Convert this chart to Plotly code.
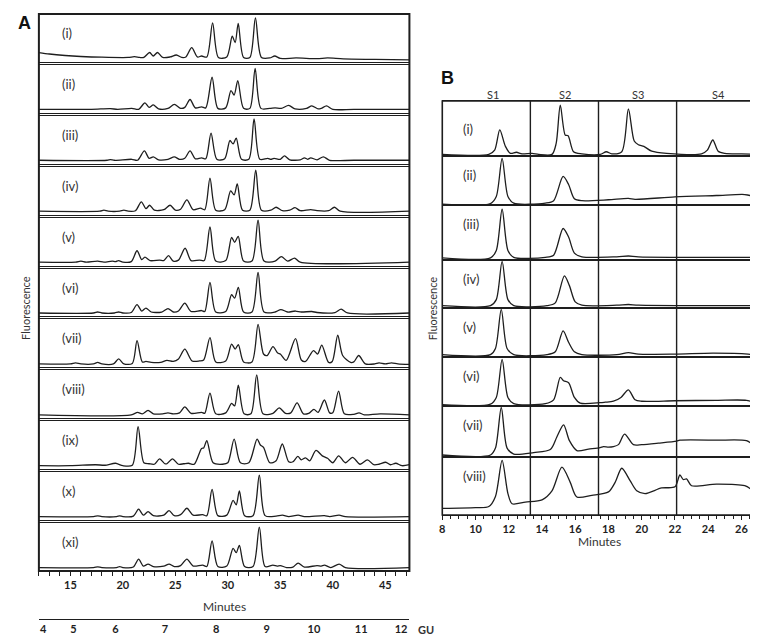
import plotly.graph_objects as go

W, H = 758, 637

# ---------------- data ----------------
A_labels = ["(i)", "(ii)", "(iii)", "(iv)", "(v)", "(vi)", "(vii)", "(viii)", "(ix)", "(x)", "(xi)"]
B_labels = ["(i)", "(ii)", "(iii)", "(iv)", "(v)", "(vi)", "(vii)", "(viii)"]

# Panel A chromatograms: (minutes, relative fluorescence)
A_i = [(12, 0.12), (13, 0.09), (14.5, 0.06), (16, 0.04), (18, 0.025), (20.5, 0.02), (21.1, 0.035), (21.6, 0.02),
       (22.0, 0.02), (22.55, 0.12), (22.9, 0.05), (23.3, 0.12), (23.8, 0.02), (24.5, 0.03), (25.1, 0.07), (25.6, 0.02),
       (26.0, 0.03), (26.56, 0.22), (27.1, 0.03), (27.5, 0.05), (28.0, 0.03), (28.55, 0.72), (29.1, 0.02), (29.9, 0.03),
       (30.42, 0.45), (30.7, 0.32), (30.99, 0.71), (31.5, 0.02), (32.1, 0.02), (32.63, 0.82), (33.2, 0.02), (34.0, 0.01),
       (34.47, 0.05), (35.0, 0.0), (36.5, 0.01), (38.5, -0.005), (39.5, 0.01), (41, -0.01), (44, -0.02), (47.3, -0.03)]
A_ii = [(12, 0.0), (17, 0.0), (18.8, 0.015), (19.5, 0.0), (20.85, 0.02), (21.5, 0.0), (22.1, 0.13), (22.5, 0.04),
        (22.9, 0.09), (23.4, 0.01), (24.3, 0.02), (24.9, 0.10), (25.5, 0.02), (25.9, 0.04), (26.4, 0.2), (26.9, 0.03),
        (27.5, 0.05), (27.9, 0.03), (28.5, 0.65), (29.05, 0.02), (29.8, 0.03), (30.3, 0.38), (30.6, 0.29), (30.95, 0.58),
        (31.5, 0.02), (32.1, 0.02), (32.6, 0.83), (33.15, 0.02), (34.0, 0.02), (34.5, 0.03), (35.1, 0.02), (35.8, 0.08),
        (36.4, 0.01), (37.5, 0.02), (38.0, 0.07), (38.6, 0.01), (38.9, 0.02), (39.4, 0.07), (40.0, 0.0), (42, 0.0), (47.3, 0.0)]
A_iii = [(12, 0.0), (18.5, 0.0), (18.8, 0.015), (19.2, 0.0), (20.85, 0.02), (21.4, 0.0), (22.05, 0.19), (22.5, 0.04),
         (22.9, 0.07), (23.4, 0.01), (24.3, 0.02), (24.9, 0.07), (25.4, 0.02), (25.9, 0.04), (26.4, 0.19), (26.9, 0.03),
         (27.5, 0.05), (27.9, 0.03), (28.4, 0.55), (28.95, 0.02), (29.7, 0.03), (30.2, 0.40), (30.5, 0.33), (30.8, 0.45),
         (31.3, 0.02), (32.0, 0.02), (32.5, 0.84), (33.05, 0.02), (33.8, 0.04), (34.1, 0.02), (34.4, 0.04), (35.0, 0.02),
         (35.4, 0.09), (35.9, 0.01), (36.9, 0.01), (37.3, 0.05), (37.6, 0.02), (37.9, 0.05), (38.5, 0.01), (39.1, 0.07),
         (39.7, 0.0), (42, 0.0), (47.3, 0.0)]
A_iv = [(12, 0.0), (17.8, 0.0), (18.2, 0.02), (18.6, 0.0), (19.7, 0.0), (20.1, 0.02), (20.5, 0.0), (21.2, 0.01),
        (21.76, 0.19), (22.2, 0.05), (22.55, 0.12), (23.0, 0.02), (23.9, 0.03), (24.5, 0.12), (25.0, 0.02), (25.5, 0.04),
        (26.1, 0.23), (26.7, 0.03), (27.4, 0.06), (27.8, 0.03), (28.3, 0.67), (28.85, 0.02), (29.7, 0.03), (30.27, 0.41),
        (30.6, 0.33), (30.9, 0.55), (31.4, 0.02), (32.1, 0.02), (32.66, 0.83), (33.2, 0.02), (34.1, 0.02), (34.6, 0.08),
        (35.2, 0.01), (35.9, 0.02), (36.4, 0.07), (36.9, 0.01), (37.9, 0.03), (38.5, 0.01), (39.6, 0.01), (40.15, 0.08),
        (40.7, 0.0), (47.3, 0.0)]
A_v = [(12, 0.0), (15.5, 0.0), (16.0, 0.02), (16.5, 0.0), (17.6, 0.02), (18.2, 0.0), (19.0, 0.02), (19.3, 0.01),
       (19.6, 0.03), (20.0, 0.0), (20.8, 0.01), (21.35, 0.23), (21.8, 0.05), (22.1, 0.1), (22.6, 0.03), (23.5, 0.04),
       (23.9, 0.03), (24.35, 0.13), (24.8, 0.02), (25.3, 0.04), (25.93, 0.28), (26.5, 0.03), (27.3, 0.04), (27.75, 0.03),
       (28.3, 0.71), (28.85, 0.02), (29.8, 0.03), (30.36, 0.5), (30.65, 0.4), (30.99, 0.52), (31.5, 0.02), (32.3, 0.02),
       (32.88, 0.85), (33.45, 0.02), (34.5, 0.02), (35.1, 0.11), (35.7, 0.02), (36.36, 0.08), (36.9, 0.0), (47.3, 0.0)]
A_vi = [(12, 0.0), (17.2, 0.0), (17.6, 0.02), (18.0, 0.0), (19.2, 0.0), (19.6, 0.02), (20.0, 0.0), (20.8, 0.01),
        (21.35, 0.17), (21.8, 0.04), (22.2, 0.1), (22.7, 0.02), (23.7, 0.02), (24.3, 0.09), (24.8, 0.02), (25.3, 0.04),
        (25.9, 0.2), (26.5, 0.03), (27.5, 0.05), (27.8, 0.03), (28.3, 0.62), (28.85, 0.02), (29.8, 0.03), (30.36, 0.37),
        (30.65, 0.3), (31.0, 0.52), (31.5, 0.02), (32.3, 0.02), (32.88, 0.82), (33.45, 0.02), (34.5, 0.02), (35.05, 0.07),
        (35.7, 0.02), (36.45, 0.04), (37.0, 0.02), (38.0, 0.03), (38.5, 0.01), (40.2, 0.01), (40.8, 0.08), (41.4, 0.0),
        (47.3, 0.0)]
A_vii = [(12, 0.0), (15.0, 0.0), (15.5, 0.02), (16.0, 0.0), (17.2, 0.0), (17.6, 0.03), (18.0, 0.0), (19.1, 0.0),
         (19.6, 0.1), (20.1, 0.0), (20.9, 0.01), (21.35, 0.47), (21.85, 0.04), (22.2, 0.05), (22.7, 0.03), (23.6, 0.03),
         (24.2, 0.07), (24.8, 0.05), (25.3, 0.1), (25.9, 0.3), (26.6, 0.06), (27.3, 0.06), (27.7, 0.08), (28.3, 0.53),
         (28.85, 0.04), (29.8, 0.06), (30.36, 0.4), (30.7, 0.3), (31.0, 0.39), (31.5, 0.04), (32.3, 0.04), (32.88, 0.8),
         (33.4, 0.2), (33.75, 0.17), (34.3, 0.35), (34.75, 0.22), (35.0, 0.2), (35.56, 0.07), (36.45, 0.51), (37.0, 0.08),
         (37.4, 0.05), (38.16, 0.27), (38.55, 0.2), (38.95, 0.38), (39.6, 0.03), (39.95, 0.05), (40.47, 0.58), (40.94, 0.17),
         (41.7, 0.03), (42.0, 0.04), (42.47, 0.17), (43.1, 0.0), (44.0, 0.0), (44.4, 0.02), (45.0, 0.0), (45.6, 0.02),
         (46.2, 0.0), (47.3, -0.01)]
A_viii = [(12, 0.0), (20.8, 0.0), (21.4, 0.05), (21.85, 0.02), (22.4, 0.09), (22.9, 0.02), (23.8, 0.02), (24.3, 0.04),
          (24.8, 0.02), (25.4, 0.04), (25.9, 0.16), (26.5, 0.03), (27.5, 0.05), (27.8, 0.03), (28.3, 0.44), (28.85, 0.02),
          (29.8, 0.04), (30.36, 0.23), (30.65, 0.18), (31.0, 0.6), (31.55, 0.02), (32.2, 0.02), (32.75, 0.81), (33.35, 0.02),
          (34.3, 0.03), (34.9, 0.14), (35.5, 0.03), (36.0, 0.04), (36.6, 0.24), (37.2, 0.02), (37.7, 0.03), (38.2, 0.11),
          (38.6, 0.05), (39.2, 0.3), (39.7, 0.04), (40.0, 0.04), (40.55, 0.48), (41.1, 0.02), (42.0, 0.01), (42.5, 0.04),
          (43.0, 0.0), (44.5, 0.02), (47.3, 0.0)]
A_ix = [(12, 0.0), (15, 0.0), (17.4, 0.02), (18.3, 0.01), (19.3, 0.05), (20.0, 0.0), (20.9, 0.01), (21.45, 0.79),
        (22.0, 0.06), (22.5, 0.04), (23.0, 0.03), (23.5, 0.14), (24.0, 0.04), (24.2, 0.04), (24.73, 0.14), (25.3, 0.03),
        (25.8, 0.04), (26.25, 0.05), (26.8, 0.03), (27.5, 0.35), (27.7, 0.36), (28.0, 0.51), (28.6, 0.06), (29.5, 0.03),
        (30.0, 0.06), (30.6, 0.54), (31.2, 0.06), (32.0, 0.06), (32.79, 0.54), (33.1, 0.42), (33.4, 0.37), (34.0, 0.06),
        (34.6, 0.1), (35.19, 0.44), (35.8, 0.08), (36.2, 0.08), (36.67, 0.19), (37.0, 0.12), (37.4, 0.16), (37.8, 0.1),
        (38.4, 0.31), (39.0, 0.2), (39.5, 0.15), (40.0, 0.06), (40.56, 0.2), (41.2, 0.06), (41.88, 0.17), (42.6, 0.03),
        (43.3, 0.12), (43.9, 0.02), (44.4, 0.03), (45.04, 0.07), (45.5, 0.02), (46.0, 0.05), (46.6, 0.0), (47.3, 0.02)]
A_x = [(12, 0.0), (17.2, 0.0), (17.6, 0.015), (18, 0.0), (19.4, 0.0), (19.7, 0.015), (20.0, 0.0), (21.0, 0.01),
       (21.5, 0.15), (21.95, 0.03), (22.4, 0.1), (22.9, 0.02), (23.9, 0.03), (24.4, 0.12), (24.9, 0.02), (25.5, 0.04),
       (26.1, 0.17), (26.7, 0.03), (27.6, 0.04), (28.0, 0.02), (28.5, 0.55), (29.05, 0.02), (29.9, 0.03), (30.5, 0.33),
       (30.8, 0.24), (31.1, 0.52), (31.6, 0.02), (32.4, 0.02), (33.0, 0.84), (33.55, 0.02), (34.6, 0.01), (35.2, 0.03),
       (35.8, 0.0), (36.7, 0.03), (37.3, 0.0), (39.2, 0.02), (39.7, 0.0), (40.6, 0.03), (41.2, 0.0), (47.3, 0.0)]
A_xi = [(12, 0.0), (17.2, 0.0), (17.6, 0.015), (18, 0.0), (19.4, 0.0), (19.7, 0.02), (20.0, 0.0), (21.0, 0.01),
        (21.5, 0.17), (21.95, 0.03), (22.4, 0.07), (22.9, 0.02), (23.9, 0.03), (24.4, 0.07), (24.9, 0.02), (25.5, 0.04),
        (26.1, 0.17), (26.7, 0.03), (27.6, 0.05), (28.0, 0.02), (28.5, 0.54), (29.05, 0.02), (29.9, 0.03), (30.5, 0.39),
        (30.8, 0.3), (31.1, 0.45), (31.6, 0.02), (32.4, 0.02), (33.0, 0.82), (33.55, 0.02), (34.3, 0.05), (34.7, 0.03),
        (35.0, 0.04), (35.6, 0.0), (36.2, 0.01), (36.7, 0.09), (37.3, 0.01), (38.5, 0.04), (38.9, 0.03), (39.2, 0.05),
        (39.8, 0.0), (40.6, 0.07), (41.2, 0.0), (47.3, 0.0)]
A_series = [A_i, A_ii, A_iii, A_iv, A_v, A_vi, A_vii, A_viii, A_ix, A_x, A_xi]

# Panel B chromatograms
B_i = [(8, 0.0), (10.8, 0.0), (11.15, 0.08), (11.46, 0.46), (11.8, 0.15), (12.1, 0.02), (12.46, 0.04), (12.8, 0.01),
       (13.4, 0.02), (13.8, 0.0), (14.6, 0.0), (14.85, 0.2), (15.1, 0.92), (15.4, 0.36), (15.57, 0.35), (15.9, 0.05),
       (16.4, 0.01), (17.5, 0.0), (17.87, 0.05), (18.2, 0.01), (18.8, 0.05), (19.2, 0.85), (19.55, 0.25), (19.8, 0.18),
       (20.13, 0.15), (20.6, 0.06), (21.5, 0.02), (23.6, 0.01), (23.95, 0.08), (24.28, 0.27), (24.6, 0.06), (25.0, 0.02),
       (26, 0.01), (27, 0.0)]
B_ii = [(8, -0.01), (10.9, 0.0), (11.25, 0.15), (11.6, 0.95), (11.95, 0.15), (12.3, 0.01), (14.2, 0.01), (14.7, 0.06),
        (15.27, 0.57), (15.6, 0.4), (15.95, 0.1), (16.4, 0.06), (18.0, 0.08), (19.2, 0.11), (19.6, 0.09), (22, 0.14),
        (24.5, 0.17), (26.2, 0.19), (26.6, 0.16), (27, 0.07)]
B_iii = [(8, 0.01), (10.9, 0.01), (11.25, 0.15), (11.6, 0.92), (11.95, 0.15), (12.3, 0.02), (14.2, 0.02), (14.7, 0.06),
         (15.27, 0.56), (15.6, 0.4), (15.95, 0.1), (16.4, 0.03), (18.5, 0.03), (19.2, 0.045), (19.8, 0.03), (27, 0.02)]
B_iv = [(8, 0.02), (10.9, 0.02), (11.25, 0.15), (11.6, 0.97), (11.95, 0.15), (12.3, 0.02), (14.3, 0.02), (14.8, 0.08),
        (15.35, 0.66), (15.65, 0.45), (16.0, 0.1), (16.4, 0.03), (18.5, 0.03), (19.2, 0.045), (19.8, 0.03), (27, 0.02)]
B_v = [(8, 0.02), (10.9, 0.02), (11.2, 0.15), (11.55, 0.97), (11.9, 0.15), (12.3, 0.02), (14.3, 0.02), (14.8, 0.08),
       (15.27, 0.52), (15.6, 0.28), (15.95, 0.08), (16.4, 0.02), (18.5, 0.02), (19.2, 0.06), (19.8, 0.03), (22, 0.03),
       (24.3, 0.05), (26.4, 0.03), (27, 0.0)]
B_vi = [(8, 0.0), (10.9, 0.01), (11.25, 0.15), (11.6, 0.95), (11.95, 0.15), (12.3, 0.02), (14.2, 0.02), (14.7, 0.1),
        (15.1, 0.57), (15.3, 0.5), (15.6, 0.46), (15.95, 0.15), (16.3, 0.03), (17.5, 0.04), (17.8, 0.05), (18.3, 0.07),
        (18.75, 0.15), (19.2, 0.31), (19.6, 0.1), (20.0, 0.07), (22, 0.08), (24.5, 0.09), (26.3, 0.09), (26.7, 0.05),
        (27, 0.0)]
B_vii = [(8, 0.01), (10.9, 0.01), (11.2, 0.15), (11.55, 0.97), (11.9, 0.15), (12.3, 0.03), (13.5, 0.06), (14.5, 0.12),
         (14.9, 0.38), (15.3, 0.62), (15.65, 0.3), (16.1, 0.1), (16.8, 0.13), (17.5, 0.16), (17.7, 0.18), (18.0, 0.17),
         (18.3, 0.18), (18.6, 0.22), (18.97, 0.43), (19.5, 0.22), (20.0, 0.22), (21.0, 0.25), (22.1, 0.29), (22.3, 0.31),
         (24.5, 0.31), (26.3, 0.3), (26.7, 0.22), (27, 0.13)]
B_viii = [(8, 0.087), (10.0, 0.1), (10.8, 0.12), (11.2, 0.3), (11.6, 0.94), (11.95, 0.35), (12.2, 0.17), (13.0, 0.2),
          (14.0, 0.24), (14.6, 0.4), (15.2, 0.82), (15.7, 0.55), (16.1, 0.29), (17.0, 0.32), (18.0, 0.38), (18.4, 0.55),
          (18.8, 0.8), (19.3, 0.58), (19.7, 0.4), (20.2, 0.35), (21.2, 0.45), (22.0, 0.47), (22.3, 0.68), (22.5, 0.6),
          (22.7, 0.61), (23.0, 0.49), (24.5, 0.52), (26.2, 0.49), (26.6, 0.42), (27, 0.26)]
B_series = [B_i, B_ii, B_iii, B_iv, B_v, B_vi, B_vii, B_viii]

A_xrange = [12, 47.3]
B_xrange = [8, 27]
A_ticks = [15, 20, 25, 30, 35, 40, 45]
B_ticks = [8, 10, 12, 14, 16, 18, 20, 22, 24, 26]
GU_pos = [12.4, 15.3, 19.3, 24.0, 28.9, 33.7, 38.2, 42.7, 46.5]
GU_text = ["4", "5", "6", "7", "8", "9", "10", "11", "12"]
S_bounds = [13.3, 17.4, 22.1]
S_pos = [11.06, 15.4, 19.8, 24.6]
S_text = ["S1", "S2", "S3", "S4"]

# ---------------- layout helpers ----------------
def fx(p):
    return p / W

def fy(p):
    return 1 - p / H

def bold(vals):
    return [f"<b>{v}</b>" for v in vals]

INK = "#1e1e1e"
FONT = "Lato"
A_dom = [fx(28), fx(400)]
B_dom = [fx(433), fx(750)]
A_top, A_gap = 6, 3
A_box = (563 - A_top - 10 * A_gap) / 11
B_edges = [93, 148, 197, 252, 300, 349, 398, 449, 507]

fig = go.Figure()
layout = {}
annotations = []
shapes = []

def axname(i):
    return ("x" if i == 1 else f"x{i}"), ("y" if i == 1 else f"y{i}")

tickfont = dict(family=FONT, size=11, color=INK)
label_font = dict(family=FONT, size=13, color="#333")

def note(x, y, text, font, xref="paper", **kw):
    d = dict(x=x, y=y, xref=xref, yref="paper", text=text, showarrow=False,
             xanchor="center", yanchor="middle", font=font)
    d.update(kw)
    annotations.append(d)

# Panel A
for k, pts in enumerate(A_series):
    i = k + 1
    xn, yn = axname(i)
    top = A_top + k * (A_box + A_gap)
    bot = top + A_box
    fig.add_trace(go.Scatter(x=[p[0] for p in pts], y=[p[1] for p in pts], mode="lines",
                             line=dict(color=INK, width=1.3, shape="spline", smoothing=0.8),
                             xaxis=xn, yaxis=yn, hoverinfo="skip", showlegend=False))
    last = (k == len(A_series) - 1)
    xa = dict(domain=A_dom, anchor=yn, range=A_xrange, showline=True, mirror=True, linecolor=INK,
              linewidth=1.3, showgrid=False, zeroline=False, showticklabels=last,
              ticks="outside" if last else "", fixedrange=True)
    if last:
        xa.update(tickmode="array", tickvals=A_ticks, ticktext=bold(A_ticks), ticklen=4, tickwidth=1,
                  tickcolor=INK, tickfont=tickfont,
                  minor=dict(tickmode="linear", tick0=12, dtick=1, ticks="outside", ticklen=4,
                             tickwidth=1, tickcolor=INK))
    layout["xaxis" if i == 1 else f"xaxis{i}"] = xa
    layout["yaxis" if i == 1 else f"yaxis{i}"] = dict(domain=[fy(bot), fy(top)], anchor=xn,
                                                     range=[-0.07, 0.9], visible=False, fixedrange=True)
    note(fx(49), fy(top + 19), A_labels[k], label_font, xanchor="left")

# Panel B
nA = len(A_series)
for k, pts in enumerate(B_series):
    i = nA + 1 + k
    xn, yn = axname(i)
    top, bot = B_edges[k], B_edges[k + 1]
    fig.add_trace(go.Scatter(x=[p[0] for p in pts], y=[p[1] for p in pts], mode="lines",
                             line=dict(color=INK, width=1.3, shape="spline", smoothing=0.8),
                             xaxis=xn, yaxis=yn, hoverinfo="skip", showlegend=False))
    last = (k == len(B_series) - 1)
    xa = dict(domain=B_dom, anchor=yn, range=B_xrange, showline=True, mirror=True, linecolor=INK,
              linewidth=1.3, showgrid=False, zeroline=False, showticklabels=last,
              ticks="outside" if last else "", fixedrange=True)
    if last:
        xa.update(tickmode="array", tickvals=B_ticks, ticktext=bold(B_ticks), ticklen=4, tickwidth=1,
                  tickcolor=INK, tickfont=tickfont,
                  minor=dict(tickmode="linear", tick0=8, dtick=0.5, ticks="outside", ticklen=3,
                             tickwidth=1, tickcolor=INK))
    layout[f"xaxis{i}"] = xa
    layout[f"yaxis{i}"] = dict(domain=[fy(bot), fy(top)], anchor=xn, range=[-0.03, 1.0],
                               visible=False, fixedrange=True)
    off = 28 if k == 0 else 19
    note(fx(452), fy(top + off), B_labels[k], label_font, xanchor="left")

B_first = f"x{nA + 1}"

# GU axis (free x axis below panel A)
gu_i = nA + len(B_series) + 1
fig.add_trace(go.Scatter(x=[None], y=[None], xaxis=f"x{gu_i}", yaxis=f"y{nA}", showlegend=False,
                         hoverinfo="skip"))
layout[f"xaxis{gu_i}"] = dict(overlaying=f"x{nA}", anchor="free", position=fy(611), domain=A_dom,
                              range=A_xrange, showline=True, linecolor=INK, linewidth=1.3, ticks="",
                              tickmode="array", tickvals=GU_pos, ticktext=bold(GU_text), tickfont=tickfont,
                              showgrid=False, zeroline=False, side="bottom", fixedrange=True)

# frames
shapes.append(dict(type="rect", xref="paper", yref="paper", x0=A_dom[0], x1=A_dom[1],
                   y0=fy(563), y1=fy(A_top), line=dict(color=INK, width=2)))
shapes.append(dict(type="rect", xref="paper", yref="paper", x0=B_dom[0], x1=B_dom[1],
                   y0=fy(B_edges[-1]), y1=fy(B_edges[0]), line=dict(color=INK, width=1.6)))
for v in S_bounds:
    shapes.append(dict(type="line", xref=B_first, yref="paper", x0=v, x1=v,
                       y0=fy(B_edges[-1]), y1=fy(B_edges[0]), line=dict(color=INK, width=1.4)))
for s, t in zip(S_pos, S_text):
    note(s, fy(86), t, dict(family=FONT, size=11, color="#333"), xref=B_first)

txt = dict(family=FONT, color="#333")
note(fx(14), fy(15), "<b>A</b>", dict(family="Liberation Sans", size=18, color="#111"))
note(fx(438), fy(70), "<b>B</b>", dict(family="Liberation Sans", size=18, color="#111"))
note(fx(14), fy(300), "Fluorescence", dict(size=11, **txt), textangle=-90)
note(fx(423), fy(300), "Fluorescence", dict(size=11, **txt), textangle=-90)
note(fx(214), fy(598), "Minutes", dict(size=12, **txt))
note(fx(591), fy(533), "Minutes", dict(size=12, **txt))
note(fx(417), fy(621), "<b>GU</b>", dict(size=11, **txt))

fig.update_layout(width=W, height=H, margin=dict(l=0, r=0, t=0, b=0), paper_bgcolor="white",
                  plot_bgcolor="white", showlegend=False, annotations=annotations, shapes=shapes,
                  font=dict(family=FONT, color=INK), **layout)

fig.write_html("out.html")
